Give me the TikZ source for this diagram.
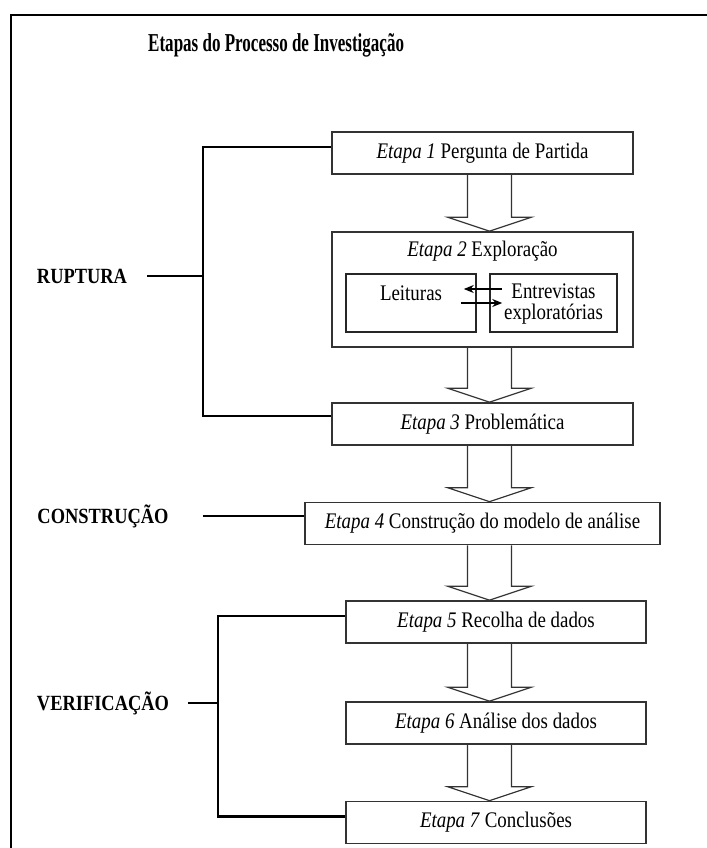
\documentclass[tikz,border=0pt]{standalone}
\usepackage{fontspec}
\setmainfont[FakeStretch=0.85]{Liberation Serif}
\newfontfamily\titlefont[FakeStretch=0.66]{Liberation Serif}
\usetikzlibrary{arrows.meta,calc}

\begin{document}
\begin{tikzpicture}[x=0.03cm,y=-0.03cm,
  stage/.style={draw=black!80,line width=1.4pt,inner sep=0pt,minimum width=9.03cm,minimum height=1.26cm,font=\fontsize{19}{19}\selectfont},
  inbox/.style={draw=black!85,line width=1.3pt,inner sep=0pt,minimum width=3.9cm,minimum height=1.74cm},
  txt/.style={inner sep=0pt,font=\fontsize{19}{18.7}\selectfont},
  phase/.style={inner sep=0pt,font=\bfseries\fontsize{18.5}{19}\selectfont},
  bracket/.style={line width=2.2pt},
  blockarr/.style={draw=black!80,line width=1pt,line join=miter},
  flow/.style={line width=1.2pt,-{Stealth[length=3mm,width=2.4mm]}}]
\useasboundingbox (0,0) rectangle (707,848);
% moldura
\draw[line width=1.6pt] (11,848) -- (11,15) -- (707,15);
\node[inner sep=0pt,font=\titlefont\bfseries\fontsize{22}{24}\selectfont,anchor=west] (titulo) at (148,45) {Etapas do Processo de Investigação};

% etapas
\node[stage] (e1) at (482.5,153) {\textit{Etapa 1} Pergunta de Partida};
\node[stage,minimum height=3.45cm] (e2) at (482.5,289.5) {};
\node[txt] (e2t) at (482.5,251) {\textit{Etapa 2} Exploração};
\node[inbox] (leit) at (411,303) {};
\node[txt] (leitt) at (411,293) {Leituras};
\node[inbox,minimum width=3.81cm] (entr) at (553.5,303) {};
\node[txt,align=center] (entrt) at (553.5,304) {Entrevistas\\exploratórias};
\node[stage] (e3) at (482.5,424) {\textit{Etapa 3} Problemática};
\node[stage,minimum width=10.65cm] (e4) at (482.5,523.5) {\textit{Etapa 4} Construção do modelo de análise};
\node[stage,minimum width=9cm] (e5) at (496,622) {\textit{Etapa 5} Recolha de dados};
\node[stage,minimum width=9cm] (e6) at (496,723) {\textit{Etapa 6} Análise dos dados};
\node[stage,minimum width=9cm] (e7) at (496,822.5) {\textit{Etapa 7} Conclusões};

% setas entre leituras e entrevistas
\draw[flow] ($(entr.west)+(13,-14)$) -- ($(leit.east)+(-13,-14)$);
\draw[flow] ($(leit.east)+(-16,0)$) -- ($(entr.west)+(13,0)$);

% setas largas
\coordinate (eixo) at (489.5,0);
\draw[blockarr] ($(eixo |- e1.south)+(-22,0)$) -- ($(eixo |- e2.north)+(-22,-14)$) -- ++(-20,0) -- (eixo |- e2.north) -- ($(eixo |- e2.north)+(42,-14)$) -- ++(-20,0) -- ($(eixo |- e1.south)+(22,0)$);
\draw[blockarr] ($(eixo |- e2.south)+(-22,0)$) -- ($(eixo |- e3.north)+(-22,-14)$) -- ++(-20,0) -- (eixo |- e3.north) -- ($(eixo |- e3.north)+(42,-14)$) -- ++(-20,0) -- ($(eixo |- e2.south)+(22,0)$);
\draw[blockarr] ($(eixo |- e3.south)+(-22,0)$) -- ($(eixo |- e4.north)+(-22,-14)$) -- ++(-20,0) -- (eixo |- e4.north) -- ($(eixo |- e4.north)+(42,-14)$) -- ++(-20,0) -- ($(eixo |- e3.south)+(22,0)$);
\draw[blockarr] ($(eixo |- e4.south)+(-22,0)$) -- ($(eixo |- e5.north)+(-22,-14)$) -- ++(-20,0) -- (eixo |- e5.north) -- ($(eixo |- e5.north)+(42,-14)$) -- ++(-20,0) -- ($(eixo |- e4.south)+(22,0)$);
\draw[blockarr] ($(eixo |- e5.south)+(-22,0)$) -- ($(eixo |- e6.north)+(-22,-14)$) -- ++(-20,0) -- (eixo |- e6.north) -- ($(eixo |- e6.north)+(42,-14)$) -- ++(-20,0) -- ($(eixo |- e5.south)+(22,0)$);
\draw[blockarr] ($(eixo |- e6.south)+(-22,0)$) -- ($(eixo |- e7.north)+(-22,-14)$) -- ++(-20,0) -- (eixo |- e7.north) -- ($(eixo |- e7.north)+(42,-14)$) -- ++(-20,0) -- ($(eixo |- e6.south)+(22,0)$);

% ruptura
\coordinate (rjunta) at (203,276);
\draw[bracket] ($(e1.west)+(0,-6)$) -| (rjunta) |- ($(e3.west)+(0,-8)$);
\node[phase] (rup) at (82,276) {RUPTURA};
\draw[bracket] ($(rup.east)+(20,0)$) -- (rjunta);

% construcao
\node[phase] (constr) at (103,516) {CONSTRUÇÃO};
\draw[bracket] ($(constr.east)+(34,0)$) -- (constr.east -| e4.west);

% verificacao
\coordinate (vjunta) at (218,703);
\draw[bracket] ($(e5.west)+(0,-6)$) -| (vjunta) |- ($(e7.west)+(0,-6)$);
\node[phase] (verif) at (103,703) {VERIFICAÇÃO};
\draw[bracket] ($(verif.east)+(19,0)$) -- (vjunta);
\end{tikzpicture}
\end{document}
